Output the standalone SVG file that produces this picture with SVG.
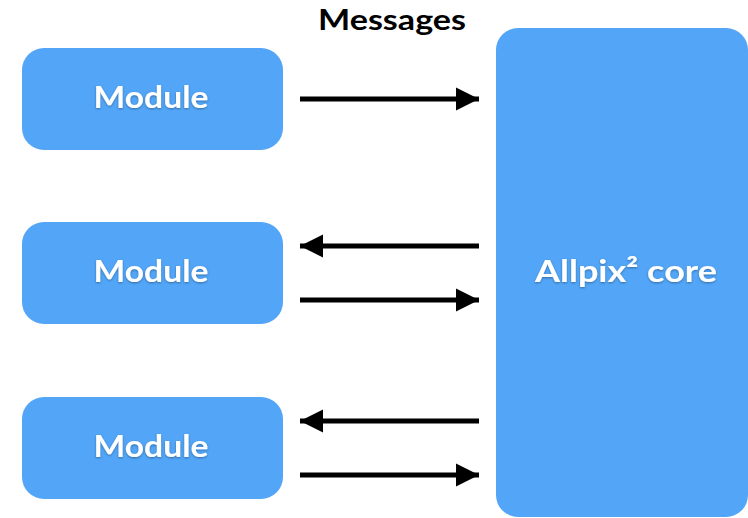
<svg xmlns="http://www.w3.org/2000/svg" width="748" height="518" viewBox="0 0 748 518">
<defs>
<style>
.box{fill:#52A5F7}
.lbl{font-family:"Lato","Liberation Sans",sans-serif;font-weight:bold;fill:#fff;text-anchor:middle;font-size:31px}
.conn line{stroke:#000;stroke-width:5}
.title{font-family:"Lato","Liberation Sans",sans-serif;font-weight:bold;fill:#000;text-anchor:middle;font-size:28px}
</style>
<filter id="sh" x="-10%" y="-20%" width="120%" height="140%">
<feDropShadow dx="0" dy="1" stdDeviation="1.2" flood-color="#000" flood-opacity="0.35"/>
</filter>
<marker id="ah" viewBox="0 0 10 10" refX="10" refY="5" markerWidth="4.6" markerHeight="4.8" markerUnits="strokeWidth" orient="auto">
<path d="M0,0 L10,5 L0,10 Z" fill="#000"/>
</marker>
</defs>
<rect width="748" height="518" fill="#fff"/>
<text class="title" x="392" y="29.5" textLength="148" lengthAdjust="spacingAndGlyphs">Messages</text>
<g id="module1"><rect class="box" x="22" y="48" width="261" height="102" rx="22"/><text class="lbl" x="151" y="108" textLength="115" lengthAdjust="spacingAndGlyphs" filter="url(#sh)">Module</text></g>
<g id="module2"><rect class="box" x="22" y="222" width="261" height="102" rx="22"/><text class="lbl" x="151" y="282" textLength="115" lengthAdjust="spacingAndGlyphs" filter="url(#sh)">Module</text></g>
<g id="module3"><rect class="box" x="22" y="397" width="261" height="102" rx="22"/><text class="lbl" x="151" y="457" textLength="115" lengthAdjust="spacingAndGlyphs" filter="url(#sh)">Module</text></g>
<g id="core"><rect class="box" x="496" y="28" width="252" height="489" rx="22"/><text class="lbl" x="626" y="282" textLength="182" lengthAdjust="spacingAndGlyphs" filter="url(#sh)">Allpix² core</text></g>
<g class="conn" id="connectors">
<line x1="300" y1="99" x2="479" y2="99" marker-end="url(#ah)"/>
<line x1="479" y1="246" x2="300" y2="246" marker-end="url(#ah)"/>
<line x1="300" y1="300" x2="479" y2="300" marker-end="url(#ah)"/>
<line x1="479" y1="421" x2="300" y2="421" marker-end="url(#ah)"/>
<line x1="300" y1="475" x2="479" y2="475" marker-end="url(#ah)"/>
</g>
</svg>
